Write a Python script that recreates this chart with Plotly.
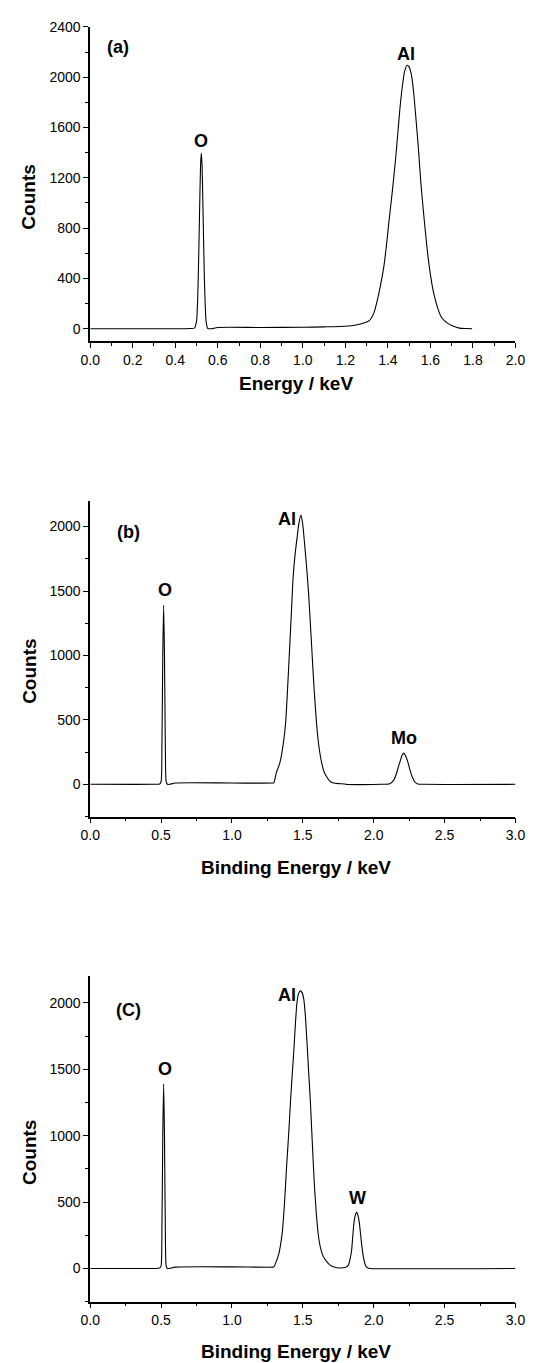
import plotly.graph_objects as go

# ---------------- spectrum (a) ----------------
energy_a = [0.00, 0.40, 0.47, 0.49, 0.50, 0.508, 0.514, 0.519, 0.5225, 0.526, 0.531,
            0.537, 0.545, 0.553, 0.57, 0.60, 0.80, 1.00, 1.10, 1.20, 1.25, 1.29, 1.313,
            1.335, 1.351, 1.367, 1.381, 1.393, 1.404, 1.42, 1.434, 1.446, 1.457, 1.469,
            1.479, 1.4915, 1.50, 1.51, 1.521, 1.532, 1.544, 1.555, 1.57, 1.585, 1.60,
            1.615, 1.635, 1.653, 1.68, 1.706, 1.736, 1.77, 1.796]
counts_a = [0, 0, 2, 5, 60, 400, 900, 1300, 1397, 1300, 900,
            400, 60, 2, 0, 10, 10, 12, 15, 20, 30, 48, 65,
            130, 232, 360, 496, 660, 838, 1080, 1312, 1540, 1760, 1940,
            2050, 2095, 2080, 2024, 1880, 1670, 1420, 1160, 880, 628, 430,
            285, 160, 87, 45, 21, 5, 2, 0]

# ---------------- spectrum (b) ----------------
energy_b = [0.00, 0.45, 0.49, 0.50, 0.506, 0.512, 0.518, 0.524, 0.530, 0.536, 0.545,
            0.56, 0.60, 1.00, 1.29, 1.296, 1.314, 1.33, 1.342, 1.36, 1.378, 1.395,
            1.408, 1.42, 1.431, 1.445, 1.459, 1.473, 1.487, 1.50, 1.513, 1.527, 1.541,
            1.553, 1.564, 1.58, 1.599, 1.615, 1.634, 1.65, 1.669, 1.69, 1.716, 1.75,
            1.798, 1.80, 2.05, 2.113, 2.14, 2.16, 2.175, 2.188, 2.20, 2.213, 2.227,
            2.241, 2.256, 2.272, 2.29, 2.311, 2.35, 3.00]
counts_b = [0, 0, 3, 20, 300, 1000, 1390, 1000, 300, 20, 0,
            0, 10, 10, 10, 12, 95, 140, 185, 300, 468, 800,
            1086, 1350, 1601, 1780, 1910, 2030, 2090, 2010, 1858, 1680, 1472,
            1250, 1035, 730, 443, 280, 160, 95, 57, 25, 10, 5,
            3, 0, 0, 5, 30, 82, 140, 185, 225, 242, 215,
            172, 110, 57, 18, 3, 0, 0]

# ---------------- spectrum (c) ----------------
energy_c = [0.00, 0.45, 0.49, 0.50, 0.506, 0.512, 0.518, 0.524, 0.530, 0.536, 0.545,
            0.56, 0.60, 1.00, 1.29, 1.296, 1.315, 1.331, 1.343, 1.354, 1.37, 1.385,
            1.40, 1.413, 1.425, 1.436, 1.448, 1.459, 1.47, 1.483, 1.495, 1.506, 1.518,
            1.529, 1.541, 1.553, 1.567, 1.581, 1.596, 1.611, 1.628, 1.646, 1.67, 1.693,
            1.715, 1.739, 1.76, 1.786, 1.805, 1.821, 1.833, 1.844, 1.852, 1.86, 1.87,
            1.88, 1.889, 1.898, 1.907, 1.917, 1.93, 1.945, 1.96, 1.973, 3.00]
counts_c = [0, 0, 3, 20, 300, 1000, 1389, 1000, 300, 20, 0,
            0, 10, 12, 10, 12, 60, 112, 180, 262, 480, 761,
            1010, 1259, 1460, 1633, 1850, 2007, 2070, 2090, 2075, 2032, 1900,
            1708, 1480, 1259, 940, 636, 400, 237, 140, 87, 50, 25,
            12, 5, 4, 5, 10, 25, 70, 137, 240, 337, 400,
            424, 400, 349, 260, 162, 70, 17, 3, 0, 0]

# peak labels: (text, energy, counts) per panel
labels_a = [("(a)", 0.133, 2240), ("O", 0.5225, 1492), ("Al", 1.487, 2187)]
labels_b = [("(b)", 0.268, 1957), ("O", 0.525, 1506), ("Al", 1.389, 2059), ("Mo", 2.213, 360)]
labels_c = [("(C)", 0.272, 1943), ("O", 0.525, 1501), ("Al", 1.389, 2057), ("W", 1.887, 529)]

x_titles = ["Energy / keV", "Binding Energy / keV", "Binding Energy / keV"]
y_title = "Counts"

W, H = 538, 1363
FONT = "Arial, Liberation Sans, sans-serif"


def px_x(px):
    return px / W


def px_y(py):
    return 1 - py / H


x_dom = [px_x(83.3), px_x(525)]
panels = [
    dict(e=energy_a, c=counts_a, labels=labels_a, xr=[0, 2], yr=[-100, 2400],
         xd=0.2, xm=0.1, yd=400, ym=200, ytop=19, ybot=335.3, xtitle_y=378, ytitle_y=190),
    dict(e=energy_b, c=counts_b, labels=labels_b, xr=[0, 3], yr=[-250, 2200],
         xd=0.5, xm=0.25, yd=500, ym=250, ytop=495.7, ybot=813.3, xtitle_y=865, ytitle_y=667),
    dict(e=energy_c, c=counts_c, labels=labels_c, xr=[0, 3], yr=[-250, 2200],
         xd=0.5, xm=0.25, yd=500, ym=250, ytop=974, ybot=1301.3, xtitle_y=1351, ytitle_y=1151),
]

fig = go.Figure()
annotations = []
layout_axes = {}

for i, p in enumerate(panels, start=1):
    xa = "x" if i == 1 else f"x{i}"
    ya = "y" if i == 1 else f"y{i}"
    fig.add_trace(go.Scatter(
        x=p["e"], y=p["c"], mode="lines", xaxis=xa, yaxis=ya,
        line=dict(color="black", width=1.1, shape="spline", smoothing=0.6),
        showlegend=False, hoverinfo="skip",
    ))
    common = dict(
        showline=True, linecolor="black", linewidth=1.5,
        ticks="outside", ticklen=5, tickwidth=1.3, tickcolor="black",
        showgrid=False, zeroline=False,
        tickfont=dict(family=FONT, size=14, color="black"),
    )
    layout_axes["xaxis" if i == 1 else f"xaxis{i}"] = dict(
        common, domain=x_dom, range=p["xr"], anchor=ya,
        tick0=0, dtick=p["xd"], tickformat=".1f",
        minor=dict(dtick=p["xm"], ticks="outside", ticklen=3, tickwidth=1.3,
                   tickcolor="black", showgrid=False),
    )
    layout_axes["yaxis" if i == 1 else f"yaxis{i}"] = dict(
        common, domain=[px_y(p["ybot"]), px_y(p["ytop"])], range=p["yr"], anchor=xa,
        tick0=0, dtick=p["yd"],
        minor=dict(dtick=p["ym"], ticks="outside", ticklen=3, tickwidth=1.3,
                   tickcolor="black", showgrid=False),
    )
    for text, ex, cy in p["labels"]:
        annotations.append(dict(
            x=ex, y=cy, xref=xa, yref=ya, text=f"<b>{text}</b>", showarrow=False,
            font=dict(family=FONT, size=18, color="black"),
            xanchor="center", yanchor="middle",
        ))
    annotations.append(dict(
        x=px_x(297), y=px_y(p["xtitle_y"]), xref="paper", yref="paper",
        text=f"<b>{x_titles[i - 1]}</b>", showarrow=False,
        font=dict(family=FONT, size=19, color="black"),
        xanchor="center", yanchor="middle",
    ))
    annotations.append(dict(
        x=px_x(19.5), y=px_y(p["ytitle_y"]), xref="paper", yref="paper",
        text=f"<b>{y_title}</b>", showarrow=False, textangle=-90,
        font=dict(family=FONT, size=19, color="black"),
        xanchor="center", yanchor="middle",
    ))

fig.update_layout(
    width=W, height=H,
    margin=dict(l=0, r=0, t=0, b=0),
    paper_bgcolor="white", plot_bgcolor="white",
    annotations=annotations,
    **layout_axes,
)

fig.write_html("out.html", config={"displayModeBar": False})
